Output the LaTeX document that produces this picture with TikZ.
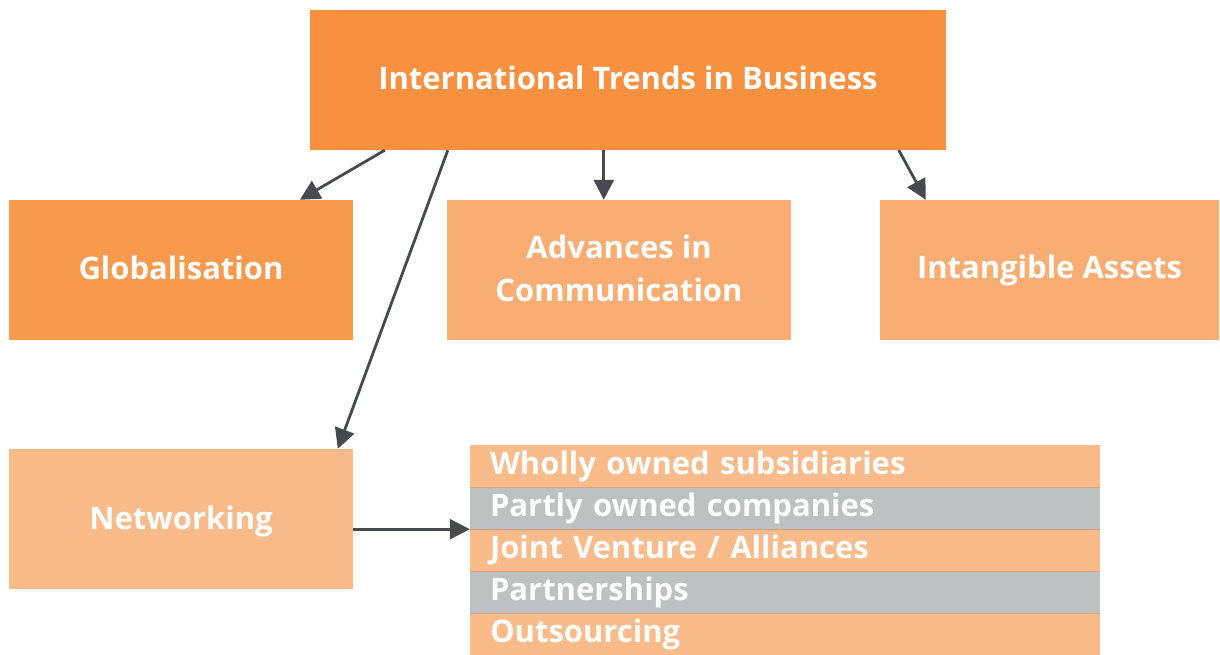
\documentclass[tikz,border=0pt]{standalone}
\usepackage{fontspec}
\setmainfont{Open Sans}
\usetikzlibrary{arrows.meta,calc}
\definecolor{topc}{HTML}{F79140}
\definecolor{globc}{HTML}{F79A4E}
\definecolor{midc}{HTML}{F9AD72}
\definecolor{lightc}{HTML}{F9BB8A}
\definecolor{greyc}{HTML}{BFC0C2}
\definecolor{arrc}{HTML}{48494D}
\definecolor{sepc}{HTML}{D8A27E}
\begin{document}
\begin{tikzpicture}[x=1pt,y=1pt,
  box/.style={rectangle, inner sep=0pt, text=white, font=\fontsize{31}{43}\selectfont\bfseries, align=center},
  row/.style={rectangle, inner ysep=0pt, inner xsep=20pt, minimum width=630pt, text width=590pt, minimum height=42pt, align=left, text=white, font=\fontsize{31}{36}\selectfont\bfseries},
  sep/.style={draw=sepc, line width=0.8pt},
  arr/.style={draw=arrc, line width=2.8pt, -{Triangle[length=20pt,width=20pt]}}]
\useasboundingbox (0,0) rectangle (1220,655);
\node[box, fill=topc, minimum width=636pt, minimum height=140pt] (top) at (628,575) {};
\node[box] (topt) at ($(top.center)+(0,2)$) {International Trends in Business};
\node[box, fill=globc, minimum width=344pt, minimum height=140pt] (glob) at (181,385) {};
\node[box] (globt) at ($(glob.center)+(0,2)$) {Globalisation};
\node[box, fill=midc, minimum width=344pt, minimum height=140pt] (adv) at (619,385) {};
\node[box] (advt) at ($(adv.center)+(0,2)$) {Advances in\\Communication};
\node[box, fill=midc, minimum width=339pt, minimum height=140pt] (int) at (1049.5,385) {Intangible Assets};
\node[box, fill=lightc, minimum width=344pt, minimum height=140pt] (net) at (181,136) {};
\node[box] (nett) at ($(net.center)+(0,-2)$) {Networking};
\node[row, fill=lightc] (r1) at (785,189) {Wholly owned subsidiaries};
\node[row, fill=greyc] (r2) at (785,147) {Partly owned companies};
\node[row, fill=lightc] (r3) at (785,105) {Joint Venture / Alliances};
\node[row, fill=greyc] (r4) at (785,63) {Partnerships};
\node[row, fill=lightc] (r5) at (785,21) {Outsourcing};
\draw[sep] (r1.south west) -- (r1.south east);
\draw[sep] (r2.south west) -- (r2.south east);
\draw[sep] (r3.south west) -- (r3.south east);
\draw[sep] (r4.south west) -- (r4.south east);
\draw[arr] ($(top.south west)+(75,0)$) -- ($(glob.north west)+(291,0)$);
\draw[arr] ($(top.south west)+(138,0)$) -- ($(net.north west)+(329,0)$);
\draw[arr] ($(top.south west)+(294,0)$) -- ($(adv.north west)+(157,0)$);
\draw[arr] ($(top.south west)+(589,0)$) -- ($(int.north west)+(46,0)$);
\draw[arr] (net.east |- r2.south west) -- (r2.south west);
\end{tikzpicture}
\end{document}
